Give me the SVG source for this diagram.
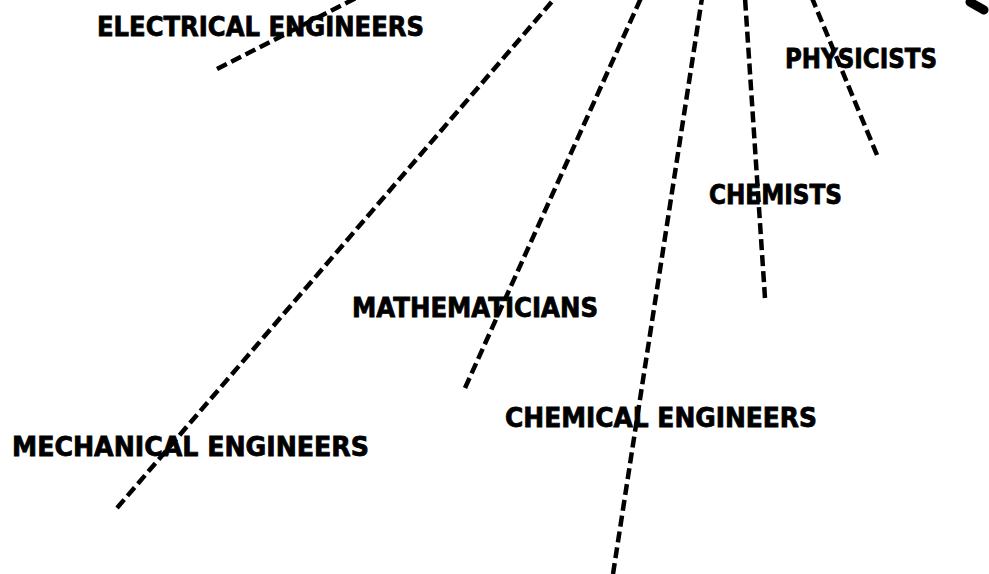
<svg xmlns="http://www.w3.org/2000/svg" width="989" height="574" viewBox="0 0 989 574">
<style>
.bg{fill:#ffffff}
.ray{fill:none;stroke:#000;stroke-width:4.5;stroke-dasharray:11 5}
.lbl{font-family:"DejaVu Sans","Liberation Sans",sans-serif;font-weight:bold;font-size:26px;fill:#000;stroke:#000;stroke-width:0.8}
</style>
<rect class="bg" x="0" y="0" width="989" height="574"/>
<g id="connectors">
<line class="ray" x1="217" y1="69" x2="356" y2="-2"/>
<line class="ray" x1="117" y1="508" x2="555" y2="-2"/>
<line class="ray" x1="465" y1="388" x2="641" y2="-2"/>
<line class="ray" x1="613" y1="574" x2="702" y2="-2"/>
<line class="ray" x1="765" y1="298" x2="745" y2="-2"/>
<line class="ray" x1="877" y1="155" x2="812" y2="-2"/>
<line x1="970" y1="2" x2="984" y2="10" stroke="#000" stroke-width="9" stroke-linecap="round"/>
</g>
<g id="electrical-engineers"><text class="lbl" x="97" y="36" textLength="327" lengthAdjust="spacingAndGlyphs">ELECTRICAL ENGINEERS</text></g>
<g id="physicists"><text class="lbl" x="785" y="68" textLength="152" lengthAdjust="spacingAndGlyphs">PHYSICISTS</text></g>
<g id="chemists"><text class="lbl" x="709" y="204" textLength="133" lengthAdjust="spacingAndGlyphs">CHEMISTS</text></g>
<g id="mathematicians"><text class="lbl" x="352" y="317" textLength="246" lengthAdjust="spacingAndGlyphs">MATHEMATICIANS</text></g>
<g id="chemical-engineers"><text class="lbl" x="505" y="427" textLength="312" lengthAdjust="spacingAndGlyphs">CHEMICAL ENGINEERS</text></g>
<g id="mechanical-engineers"><text class="lbl" x="12" y="456" textLength="357" lengthAdjust="spacingAndGlyphs">MECHANICAL ENGINEERS</text></g>
</svg>
